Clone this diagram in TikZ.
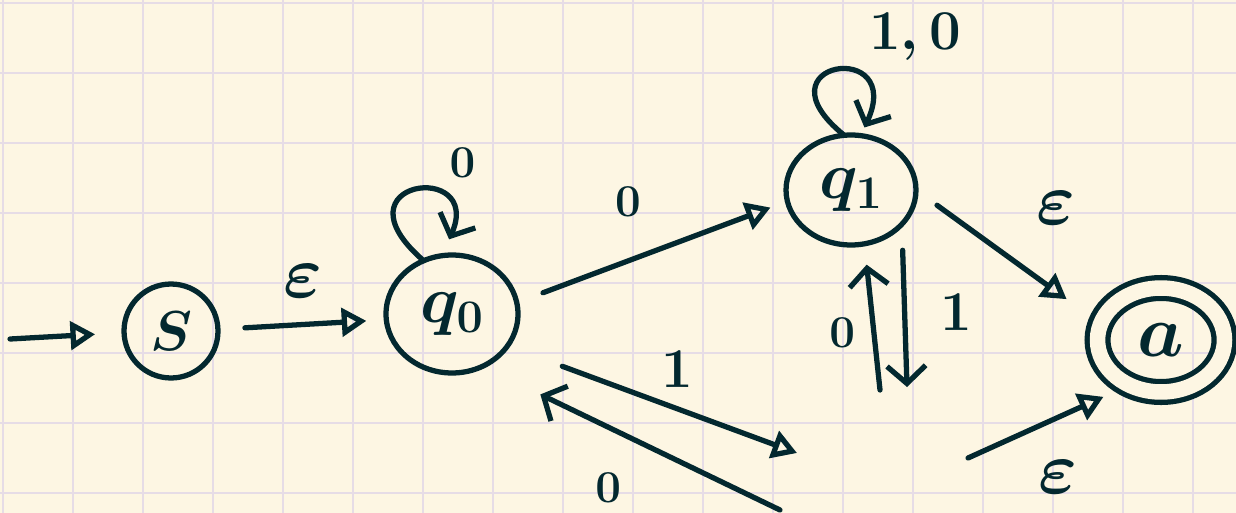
\RequirePackage{fix-cm}
\documentclass[tikz,border=0pt]{standalone}
\usepackage{xcolor}
\usepackage{tikz}
\usetikzlibrary{shapes.geometric, arrows.meta}

\definecolor{ink}{HTML}{03282F}
\definecolor{paper}{HTML}{FDF6E3}
\definecolor{gridline}{HTML}{E6DCE6}

\begin{document}
\begin{tikzpicture}[
    x=0.02cm, y=-0.02cm,
    state/.style={ellipse, draw=ink, line width=3pt, inner sep=0pt, outer sep=0pt, text=ink, font=\fontsize{38}{42}\selectfont\boldmath},
    accept/.style={double=paper, double distance=0.31cm},
    trans/.style={draw=ink, line width=3pt, line cap=round, line join=round, -{Triangle[open, length=14pt, width=16pt]}},
    barb/.style={trans, -{Straight Barb[length=10pt, width=22pt]}},
    lbl/.style={text=ink, inner sep=0pt, font=\fontsize{32}{36}\selectfont\boldmath},
    zero/.style={lbl, font=\fontsize{26}{30}\selectfont\boldmath},
    eps/.style={lbl, font=\fontsize{42}{46}\selectfont\boldmath}
]

% Paper
\useasboundingbox (0,0) rectangle (1236,513);
\fill[paper] (0,0) rectangle (1236,513);
\foreach \gx in {3,73,...,1193} \draw[gridline, line width=0.8pt] (\gx,0) -- (\gx,513);
\foreach \gy in {3,73,...,493} \draw[gridline, line width=0.8pt] (0,\gy) -- (1236,\gy);

% States
\node[state, circle, minimum size=1.88cm, font=\fontsize{32}{36}\selectfont\boldmath] (s) at (171,331) {$S$};
\node[state, minimum width=2.64cm, minimum height=2.36cm] (q0) at (452,314) {$q_0$};
\node[state, minimum width=2.6cm, minimum height=2.2cm] (q1) at (851,190) {$q_1$};
\node[state, accept, minimum width=2.54cm, minimum height=2.08cm, font=\fontsize{42}{46}\selectfont\boldmath] (a) at (1161,340) {$a$};

% Loose ends
\coordinate (init) at (10,339);
\coordinate (lost1) at (797,453);
\coordinate (lost0) at (780,510);
\coordinate (up0) at (880,390);
\coordinate (down1) at (907,387);
\coordinate (epsout) at (968,458);

% Transitions
\draw[trans, shorten >=0.58cm] (init) -- (s.182);
\draw[trans, shorten <=0.54cm, shorten >=0.4cm] (s.2) -- (q0.185) node[eps, midway, shift={(1,-43)}] {$\varepsilon$};
\draw[trans, shorten <=0.56cm, shorten >=0.36cm] (q0.10) -- (q1.190) node[zero, midway, shift={(-24,-50)}] {$0$};
\draw[trans, shorten <=1.17cm] (q0.-30) -- (lost1) node[lbl, midway, shift={(25,-30)}] {$1$};
\draw[barb, shorten >=1.29cm] (lost0) -- (q0.-60) node[zero, midway, shift={(-23,50)}] {$0$};
\draw[barb, shorten >=0.36cm] (q0.118) .. controls +(-94,-81) and +(43,-96) .. (q0.100) node[zero, pos=.5, shift={(49,-29)}] {$0$};
\draw[barb, shorten >=0.18cm] (q1.97) .. controls +(-92,-74) and +(46,-98) .. (q1.80) node[lbl, pos=.5, shift={(80,-34)}] {$1,0$};
\draw[barb, shorten >=0.42cm] (up0) -- (q1.-76) node[zero, midway, shift={(-30,16)}] {$0$};
\draw[barb, shorten <=0.52cm] (q1.-34) -- (down1) node[lbl, midway, shift={(52,7)}] {$1$};
\draw[trans, shorten <=0.52cm, shorten >=0.84cm] (q1.0) -- (a.165) node[eps, midway, shift={(48,-49)}] {$\varepsilon$};
\draw[trans, shorten >=0.57cm] (epsout) -- (a.235) node[eps, midway, shift={(9,56)}] {$\varepsilon$};

\end{tikzpicture}
\end{document}
